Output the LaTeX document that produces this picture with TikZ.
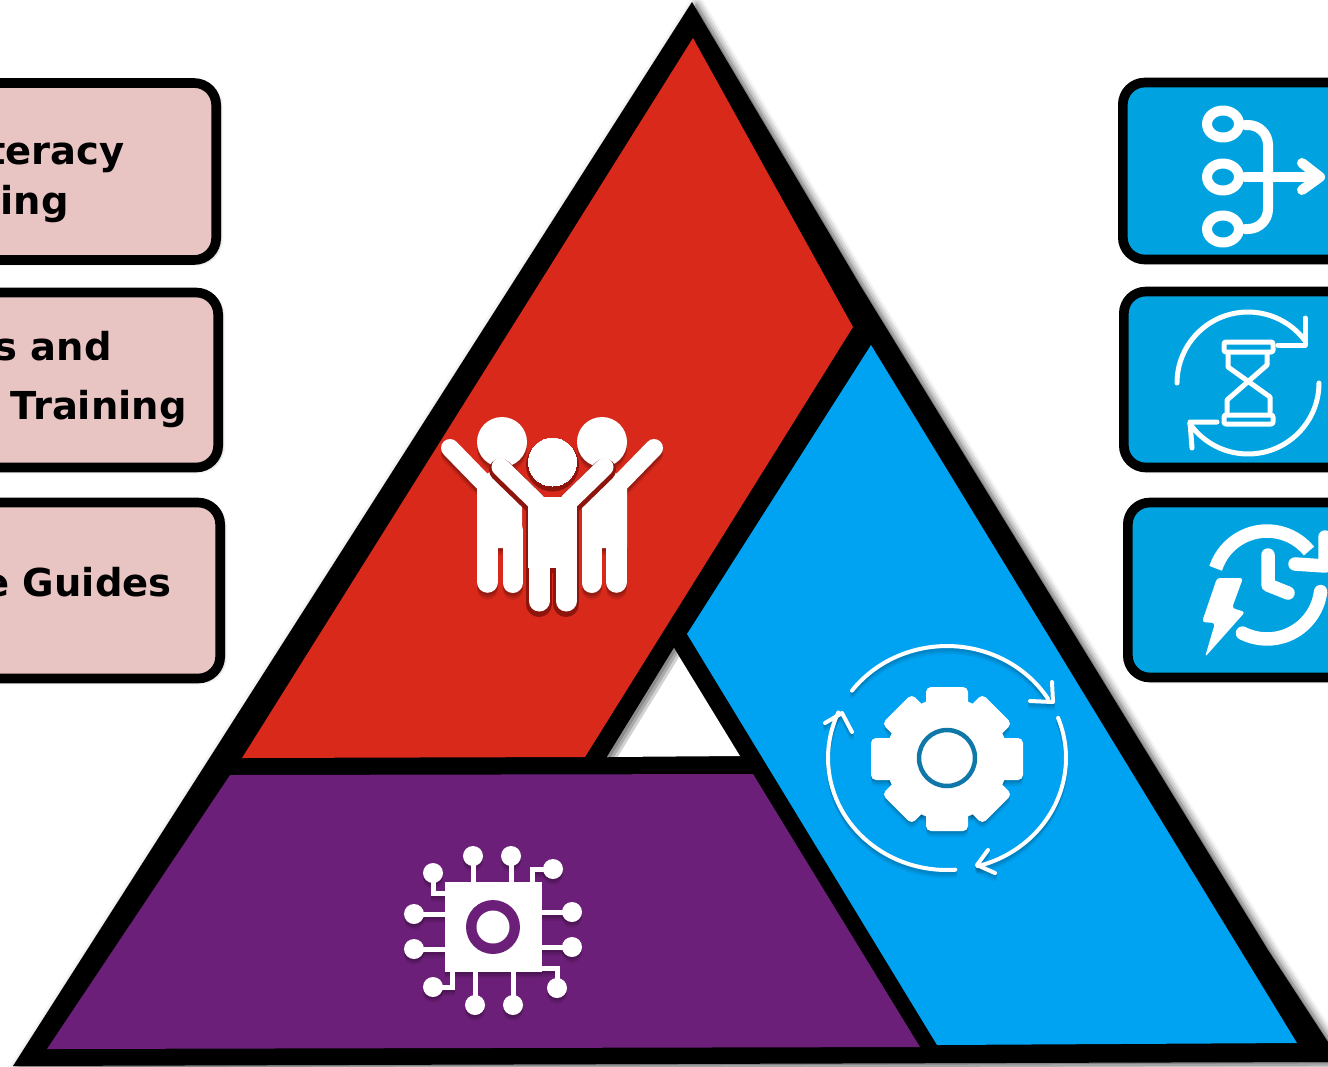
\documentclass[tikz,border=0pt]{standalone}
\usepackage{fontspec}
\setmainfont{DejaVu Sans}
\usetikzlibrary{shadows.blur}
\definecolor{pyrred}{HTML}{D9291B}
\definecolor{pyrblue}{HTML}{00A2F2}
\definecolor{pyrpurple}{HTML}{6C1F78}
\definecolor{boxblue}{HTML}{00A3DF}
\definecolor{boxpink}{HTML}{E8C4C2}
\definecolor{halored}{HTML}{8E150E}
\definecolor{ringblue}{HTML}{0F78A8}
\tikzstyle{softshadow} = [blur shadow={shadow xshift=0.05cm, shadow yshift=-0.03cm, shadow blur radius=0.09cm, shadow opacity=60}]
\tikzstyle{wideshadow} = [blur shadow={shadow xshift=0.09cm, shadow yshift=-0.05cm, shadow blur radius=0.16cm, shadow opacity=70}]
\tikzstyle{pinkbox} = [rectangle, rounded corners=0.44cm, minimum width=8cm, draw=black, line width=5.5pt, fill=boxpink, softshadow, anchor=east]
\tikzstyle{bluebox} = [rectangle, rounded corners=0.44cm, minimum width=8cm, draw=black, line width=5.5pt, fill=boxblue, softshadow, anchor=west]
\tikzstyle{boxtext} = [font=\fontsize{21.9}{25}\selectfont\bfseries, anchor=base east, inner sep=0pt]
\tikzstyle{iconthick} = [draw=white, line width=0.2cm, line cap=round, line join=round]
\tikzstyle{iconthin} = [draw=white, line width=0.1cm, line cap=round, line join=round]
\tikzstyle{iconwide} = [draw=white, line width=0.27cm, line cap=round, line join=round]
\tikzstyle{pinline} = [line width=0.1cm, line join=miter]

\begin{document}
\begin{tikzpicture}[x=0.02cm, y=0.02cm, yscale=-1]
    \path[use as bounding box, clip] (0,0) rectangle (1328,1066);

    % side boxes
    \node (literacy) [pinkbox, minimum height=3.54cm] at (221,171.5) {};
    \node (training) [pinkbox, minimum height=3.5cm] at (223,380) {};
    \node (guides) [pinkbox, minimum height=3.52cm] at (225,590.5) {};
    \node (mergebox) [bluebox, minimum height=3.54cm] at (1118,171) {};
    \node (timebox) [bluebox, minimum height=3.52cm] at (1119,379.5) {};
    \node (fastbox) [bluebox, minimum height=3.5cm] at (1123,590) {};

    \node (literacyA) [boxtext] at (125,164) {teracy};
    \node (literacyB) [boxtext] at (69,214) {ing};
    \node (trainingA) [boxtext] at (112,360) {s and};
    \node (trainingB) [boxtext] at (187,419) {Training};
    \node (guidesA) [boxtext] at (172,596) {e Guides};

    % pyramid
    \fill[black, wideshadow] (692,2) -- (860,285) -- (1268,950) -- (1328,1042) -- (1328,1062) -- (13,1066) -- cycle;
    \fill[pyrred] (693,38) -- (853,327) -- (585,757) -- (242,758) -- cycle;
    \fill[pyrblue] (871,345) -- (1297,1043) -- (937,1045) -- (687,634) -- cycle;
    \fill[pyrpurple] (230,775) -- (753,774) -- (920,1047) -- (47,1049) -- cycle;
    \begin{scope}
        \clip (674,648) -- (740,756) -- (607,757) -- cycle;
        \fill[white] (600,640) rectangle (750,760);
        \foreach \w in {0.12,0.24,0.36}
            \draw[black, opacity=0.18, line width=\w cm] (674,648) -- (607,757);
    \end{scope}

    % people
    \foreach \iconcol/\iconop/\iconoff in {black/0.08/7, black/0.1/5, black/0.14/3, white/1/0} {
        \begin{scope}[shift={(552,\iconoff)}, opacity=\iconop, color=\iconcol]
            \foreach \sx in {1,-1} {
                \begin{scope}[xscale=\sx]
                    \fill (-50,442) circle (0.5cm);
                    \draw[line width=0.36cm, line cap=round] (-102,448) -- (-69,482);
                    \fill (-75,482) -- (-60,470) -- (-30,500) -- (-30,548) -- (-75,548) -- cycle;
                    \draw[line width=0.43cm, line cap=round] (-64.5,530) -- (-64.5,582);
                    \draw[line width=0.4cm, line cap=round] (-39.5,530) -- (-39.5,583);
                \end{scope}
            }
        \end{scope}
    }
    \foreach \grow/\col/\dy in {0.1/halored/3, 0/white/0} {
        \begin{scope}[shift={(552.5,\dy)}, color=\col]
            \filldraw[line width=\grow cm] (0,462) circle (0.48cm);
            \foreach \sx in {1,-1} {
                \draw[xscale=\sx, line width=0.36cm+\grow cm, line cap=round] (-52,467) -- (-16,502);
                \draw[xscale=\sx, line width=0.42cm+\grow cm, line cap=round] (-13.5,540) -- (-13.5,601);
            }
            \filldraw[line width=\grow cm] (-24,497) rectangle (24,567);
        \end{scope}
    }

    % gear
    \foreach \iconcol/\iconop/\iconoff in {black/0.06/6, black/0.08/4, black/0.1/2, white/1/0} {
        \begin{scope}[shift={(0,\iconoff)}, opacity=\iconop, color=\iconcol]
            \foreach \a/\r in {0/76,45/71,90/72,135/71}
                \fill[rounded corners=0.1cm, rotate around={\a:(947,759)}] ({947-\r},738) rectangle ({947+\r},780);
            \fill (947,759) circle (1.22cm);
            \draw[line width=0.08cm, line cap=round] (947,758) ++(-143:2.38cm and 2.24cm) arc[start angle=-143, end angle=-32, x radius=2.38cm, y radius=2.24cm];
            \draw[line width=0.08cm, line cap=round] (947,758) ++(-21:2.38cm and 2.24cm) arc[start angle=-21, end angle=75, x radius=2.38cm, y radius=2.24cm];
            \draw[line width=0.08cm, line cap=round] (947,758) ++(86:2.38cm and 2.24cm) arc[start angle=86, end angle=204, x radius=2.38cm, y radius=2.24cm];
            \draw[line width=0.08cm, line cap=round, line join=round] (1030,701) -- (1053,702) -- (1052,682);
            \draw[line width=0.08cm, line cap=round, line join=round] (988,850) -- (977,865) -- (995,873);
            \draw[line width=0.08cm, line cap=round, line join=round] (825,723) -- (842,713) -- (852,732);
        \end{scope}
    }
    \draw[ringblue, line width=0.09cm] (947,758) circle (0.56cm);

    % chip
    \foreach \iconcol/\iconop/\iconoff in {black/0.08/6, black/0.1/4, black/0.12/2, white/1/0} {
        \begin{scope}[shift={(0,\iconoff)}, opacity=\iconop, color=\iconcol]
            \fill (445,882) rectangle (542,972);
            \foreach \px/\py/\qx/\qy in {473/856/473/882, 511/856/511/882, 414/914/445/914, 414/949/445/949, 572/912/542/912, 572/947/542/947, 475/1005/475/972, 513/1005/513/972} {
                \fill (\px,\py) circle (0.2cm);
                \draw[pinline] (\px,\py) -- (\qx,\qy);
            }
            \foreach \px/\py/\cx/\cy/\qx/\qy in {553/869/532/869/532/882, 433/873/433/893/445/893, 433/987/452/987/452/972, 557/988/557/968/542/968} {
                \fill (\px,\py) circle (0.2cm);
                \draw[pinline] (\px,\py) -- (\cx,\cy) -- (\qx,\qy);
            }
        \end{scope}
    }
    \fill[pyrpurple] (493,927) circle (0.54cm);
    \fill[white] (493,927) circle (0.33cm);

    % merge icon
    \foreach \cy in {124,177,229}
        \draw[iconthick] (1223,\cy) ellipse (0.32cm and 0.27cm);
    \draw[iconthick, rounded corners=0.4cm] (1245,125) -- (1268,125) -- (1268,229) -- (1245,229);
    \draw[iconthick] (1245,177) -- (1318,177);
    \draw[iconthick] (1302,163) -- (1320,177) -- (1302,190);

    % hourglass icon
    \draw[iconthin] (1248,383) ++(180:1.42cm) arc[start angle=180, end angle=323, radius=1.42cm];
    \draw[iconthin] (1248,383) ++(0:1.42cm) arc[start angle=0, end angle=145, radius=1.42cm];
    \draw[iconthin] (1278,345) -- (1305,345) -- (1305,318);
    \draw[iconthin] (1217,422) -- (1190,422) -- (1192,448);
    \draw[iconthin, rounded corners=0.04cm] (1224,342) rectangle (1273,352);
    \draw[iconthin, rounded corners=0.04cm] (1224,415) rectangle (1273,424);
    \draw[iconthin] (1228,355) -- (1228,367) -- (1270,397) -- (1270,412);
    \draw[iconthin] (1267,355) -- (1267,365) -- (1227,400) -- (1227,412);

    % clock icon
    \draw[iconwide, line cap=butt] (1267,585) ++(198:1.08cm) arc[start angle=198, end angle=321, radius=1.08cm];
    \draw[iconwide] (1267,585) ++(7:1.08cm) arc[start angle=7, end angle=117, radius=1.08cm];
    \draw[iconwide] (1295,564) -- (1325,566) -- (1325,537);
    \draw[iconwide] (1268,555) -- (1268,585) -- (1288,593);
    \fill[white, rounded corners=0.06cm] (1217,578) -- (1243,578) -- (1232,608) -- (1245,612) -- (1205,657) -- (1215,623) -- (1202,622) -- cycle;
\end{tikzpicture}
\end{document}
